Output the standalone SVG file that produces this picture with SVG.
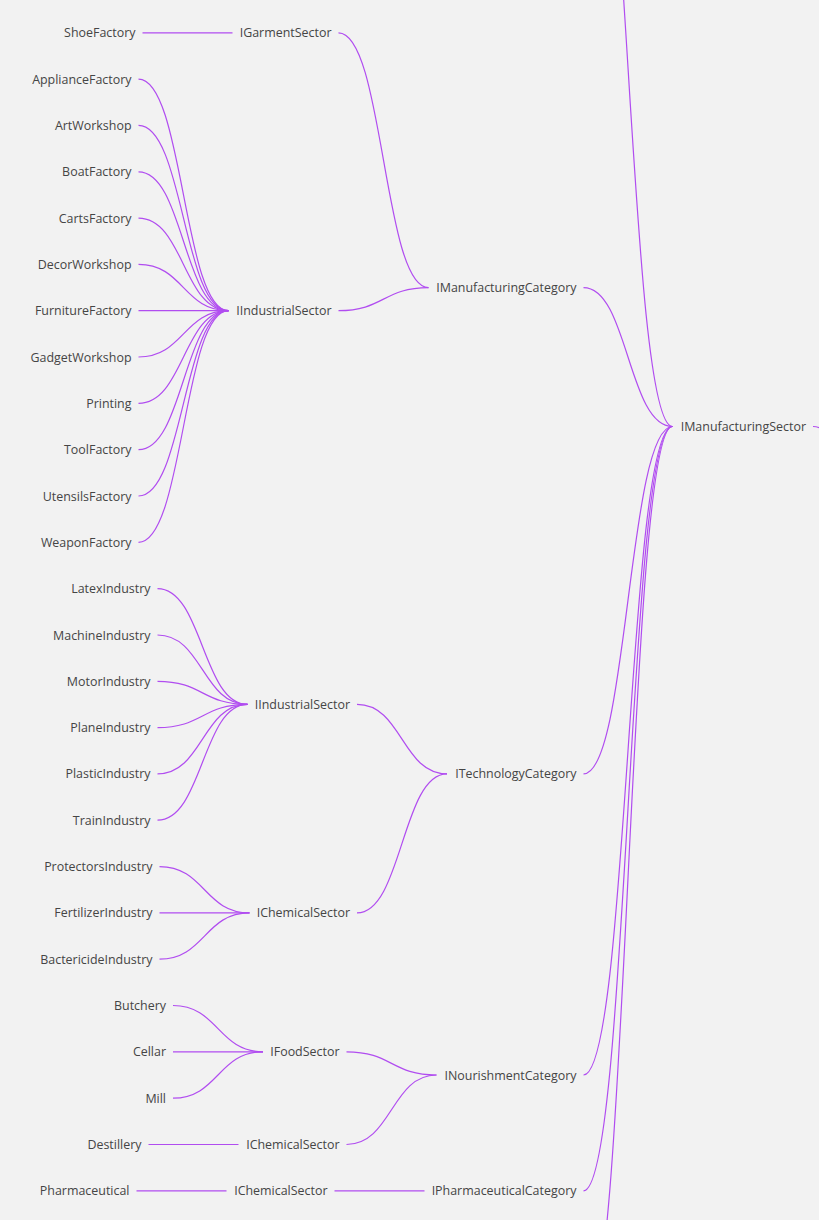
<svg xmlns="http://www.w3.org/2000/svg" width="819" height="1220" viewBox="0 0 819 1220">
<style>
.bg{fill:#f2f2f2}
.lnk{fill:none;stroke:#b14df0;stroke-width:1.2}
.lbl{font-family:"Open Sans","Liberation Sans",sans-serif;font-size:12.45px;fill:#454545;text-anchor:end}
</style>
<rect class="bg" x="0" y="0" width="819" height="1220"/>
<g id="connectors">
<path class="lnk" d="M583.5,-291.4 C628,-291.4 628,426.5 672.5,426.5"/>
<path class="lnk" d="M583.5,287.6 C628,287.6 628,426.5 672.5,426.5"/>
<path class="lnk" d="M583.5,773.9 C628,773.9 628,426.5 672.5,426.5"/>
<path class="lnk" d="M583.5,1075 C628,1075 628,426.5 672.5,426.5"/>
<path class="lnk" d="M583.5,1190.8 C628,1190.8 628,426.5 672.5,426.5"/>
<path class="lnk" d="M583.5,1329.8 C628,1329.8 628,426.5 672.5,426.5"/>
<path class="lnk" d="M813,426.5 C857,426.5 857,600 901,600"/>
<path class="lnk" d="M338.5,32.8 C383.5,32.8 383.5,287.6 428.5,287.6"/>
<path class="lnk" d="M338.5,310.7 C383.5,310.7 383.5,287.6 428.5,287.6"/>
<path class="lnk" d="M357,704.4 C402,704.4 402,773.9 447,773.9"/>
<path class="lnk" d="M357,912.9 C402,912.9 402,773.9 447,773.9"/>
<path class="lnk" d="M346.5,1051.8 C391.5,1051.8 391.5,1075 436.5,1075"/>
<path class="lnk" d="M346.5,1144.5 C391.5,1144.5 391.5,1075 436.5,1075"/>
<path class="lnk" d="M334.5,1190.8 L424.5,1190.8"/>
<path class="lnk" d="M142.5,32.8 L232.5,32.8"/>
<path class="lnk" d="M138.5,79.1 C183.5,79.1 183.5,310.7 228.5,310.7"/>
<path class="lnk" d="M138.5,125.4 C183.5,125.4 183.5,310.7 228.5,310.7"/>
<path class="lnk" d="M138.5,171.8 C183.5,171.8 183.5,310.7 228.5,310.7"/>
<path class="lnk" d="M138.5,218.1 C183.5,218.1 183.5,310.7 228.5,310.7"/>
<path class="lnk" d="M138.5,264.4 C183.5,264.4 183.5,310.7 228.5,310.7"/>
<path class="lnk" d="M138.5,310.7 L228.5,310.7"/>
<path class="lnk" d="M138.5,357 C183.5,357 183.5,310.7 228.5,310.7"/>
<path class="lnk" d="M138.5,403.4 C183.5,403.4 183.5,310.7 228.5,310.7"/>
<path class="lnk" d="M138.5,449.7 C183.5,449.7 183.5,310.7 228.5,310.7"/>
<path class="lnk" d="M138.5,496 C183.5,496 183.5,310.7 228.5,310.7"/>
<path class="lnk" d="M138.5,542.3 C183.5,542.3 183.5,310.7 228.5,310.7"/>
<path class="lnk" d="M157.5,588.6 C202.5,588.6 202.5,704.4 247.5,704.4"/>
<path class="lnk" d="M157.5,635 C202.5,635 202.5,704.4 247.5,704.4"/>
<path class="lnk" d="M157.5,681.3 C202.5,681.3 202.5,704.4 247.5,704.4"/>
<path class="lnk" d="M157.5,727.6 C202.5,727.6 202.5,704.4 247.5,704.4"/>
<path class="lnk" d="M157.5,773.9 C202.5,773.9 202.5,704.4 247.5,704.4"/>
<path class="lnk" d="M157.5,820.2 C202.5,820.2 202.5,704.4 247.5,704.4"/>
<path class="lnk" d="M159.5,866.6 C204.5,866.6 204.5,912.9 249.5,912.9"/>
<path class="lnk" d="M159.5,912.9 L249.5,912.9"/>
<path class="lnk" d="M159.5,959.2 C204.5,959.2 204.5,912.9 249.5,912.9"/>
<path class="lnk" d="M173,1005.5 C218,1005.5 218,1051.8 263,1051.8"/>
<path class="lnk" d="M173,1051.8 L263,1051.8"/>
<path class="lnk" d="M173,1098.2 C218,1098.2 218,1051.8 263,1051.8"/>
<path class="lnk" d="M148.5,1144.5 L238.5,1144.5"/>
<path class="lnk" d="M136.5,1190.8 L226.5,1190.8"/>
</g>
<g id="node-IManufacturingSector"><text class="lbl" x="806" y="431">IManufacturingSector</text></g>
<g id="node-IManufacturingCategory"><text class="lbl" x="576.5" y="292.1">IManufacturingCategory</text></g>
<g id="node-ITechnologyCategory"><text class="lbl" x="576.5" y="778.4">ITechnologyCategory</text></g>
<g id="node-INourishmentCategory"><text class="lbl" x="576.5" y="1079.5">INourishmentCategory</text></g>
<g id="node-IPharmaceuticalCategory"><text class="lbl" x="576.5" y="1195.3">IPharmaceuticalCategory</text></g>
<g id="node-IGarmentSector"><text class="lbl" x="331.5" y="37.3">IGarmentSector</text></g>
<g id="node-IIndustrialSector-1"><text class="lbl" x="331.5" y="315.2">IIndustrialSector</text></g>
<g id="node-IIndustrialSector-2"><text class="lbl" x="350" y="708.9">IIndustrialSector</text></g>
<g id="node-IChemicalSector-1"><text class="lbl" x="350" y="917.4">IChemicalSector</text></g>
<g id="node-IFoodSector"><text class="lbl" x="339.5" y="1056.3">IFoodSector</text></g>
<g id="node-IChemicalSector-2"><text class="lbl" x="339.5" y="1149">IChemicalSector</text></g>
<g id="node-IChemicalSector-3"><text class="lbl" x="327.5" y="1195.3">IChemicalSector</text></g>
<g id="node-ShoeFactory"><text class="lbl" x="135.5" y="37.3">ShoeFactory</text></g>
<g id="node-ApplianceFactory"><text class="lbl" x="131.5" y="83.6">ApplianceFactory</text></g>
<g id="node-ArtWorkshop"><text class="lbl" x="131.5" y="129.9">ArtWorkshop</text></g>
<g id="node-BoatFactory"><text class="lbl" x="131.5" y="176.3">BoatFactory</text></g>
<g id="node-CartsFactory"><text class="lbl" x="131.5" y="222.6">CartsFactory</text></g>
<g id="node-DecorWorkshop"><text class="lbl" x="131.5" y="268.9">DecorWorkshop</text></g>
<g id="node-FurnitureFactory"><text class="lbl" x="131.5" y="315.2">FurnitureFactory</text></g>
<g id="node-GadgetWorkshop"><text class="lbl" x="131.5" y="361.5">GadgetWorkshop</text></g>
<g id="node-Printing"><text class="lbl" x="131.5" y="407.9">Printing</text></g>
<g id="node-ToolFactory"><text class="lbl" x="131.5" y="454.2">ToolFactory</text></g>
<g id="node-UtensilsFactory"><text class="lbl" x="131.5" y="500.5">UtensilsFactory</text></g>
<g id="node-WeaponFactory"><text class="lbl" x="131.5" y="546.8">WeaponFactory</text></g>
<g id="node-LatexIndustry"><text class="lbl" x="150.5" y="593.1">LatexIndustry</text></g>
<g id="node-MachineIndustry"><text class="lbl" x="150.5" y="639.5">MachineIndustry</text></g>
<g id="node-MotorIndustry"><text class="lbl" x="150.5" y="685.8">MotorIndustry</text></g>
<g id="node-PlaneIndustry"><text class="lbl" x="150.5" y="732.1">PlaneIndustry</text></g>
<g id="node-PlasticIndustry"><text class="lbl" x="150.5" y="778.4">PlasticIndustry</text></g>
<g id="node-TrainIndustry"><text class="lbl" x="150.5" y="824.7">TrainIndustry</text></g>
<g id="node-ProtectorsIndustry"><text class="lbl" x="152.5" y="871.1">ProtectorsIndustry</text></g>
<g id="node-FertilizerIndustry"><text class="lbl" x="152.5" y="917.4">FertilizerIndustry</text></g>
<g id="node-BactericideIndustry"><text class="lbl" x="152.5" y="963.7">BactericideIndustry</text></g>
<g id="node-Butchery"><text class="lbl" x="166" y="1010">Butchery</text></g>
<g id="node-Cellar"><text class="lbl" x="166" y="1056.3">Cellar</text></g>
<g id="node-Mill"><text class="lbl" x="166" y="1102.7">Mill</text></g>
<g id="node-Destillery"><text class="lbl" x="141.5" y="1149">Destillery</text></g>
<g id="node-Pharmaceutical"><text class="lbl" x="129.5" y="1195.3">Pharmaceutical</text></g>
</svg>
